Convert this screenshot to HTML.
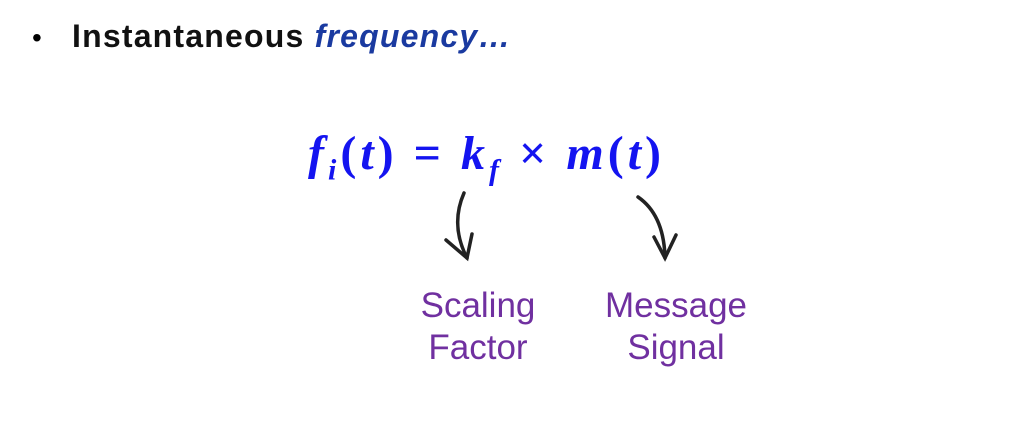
<!DOCTYPE html>
<html><head><style>
body{margin:0;width:1024px;height:447px;background:#fff;position:relative;overflow:hidden;font-family:"Liberation Sans",sans-serif}
.t{position:absolute;white-space:nowrap}
</style></head><body>
<div class="t" style="left:32px;top:22px;font-size:28px;color:#000">•</div>
<div class="t" style="left:72px;top:18px;font-size:32px;font-weight:bold;color:#111;letter-spacing:1.2px">Instantaneous <span style="color:#1a3aa0;font-style:italic">frequency…</span></div>
<div class="t" style="left:308px;top:126px;font-family:'Liberation Serif',serif;font-size:48px;font-weight:bold;font-style:italic;color:#1414f0;letter-spacing:4px">f<sub style="font-size:30px">i</sub><span style="font-style:normal">(</span>t<span style="font-style:normal">) = </span>k<sub style="font-size:30px">f</sub><span style="font-style:normal"> × </span>m<span style="font-style:normal">(</span>t<span style="font-style:normal">)</span></div>
<svg width="1024" height="447" style="position:absolute;left:0;top:0" fill="none" stroke="#222" stroke-width="3.5" stroke-linecap="round">
<path d="M464 193 Q450 225 467 258"/>
<path d="M446 240 L467 258 L472 234"/>
<path d="M638 197 Q664 215 665 258"/>
<path d="M654 237 L665 258 L676 235"/>
</svg>
<div class="t" style="left:408px;top:285px;width:140px;text-align:center;font-size:35px;color:#7030a0;line-height:42px">Scaling<br>Factor</div>
<div class="t" style="left:601px;top:285px;width:150px;text-align:center;font-size:35px;color:#7030a0;line-height:42px">Message<br>Signal</div>
</body></html>
